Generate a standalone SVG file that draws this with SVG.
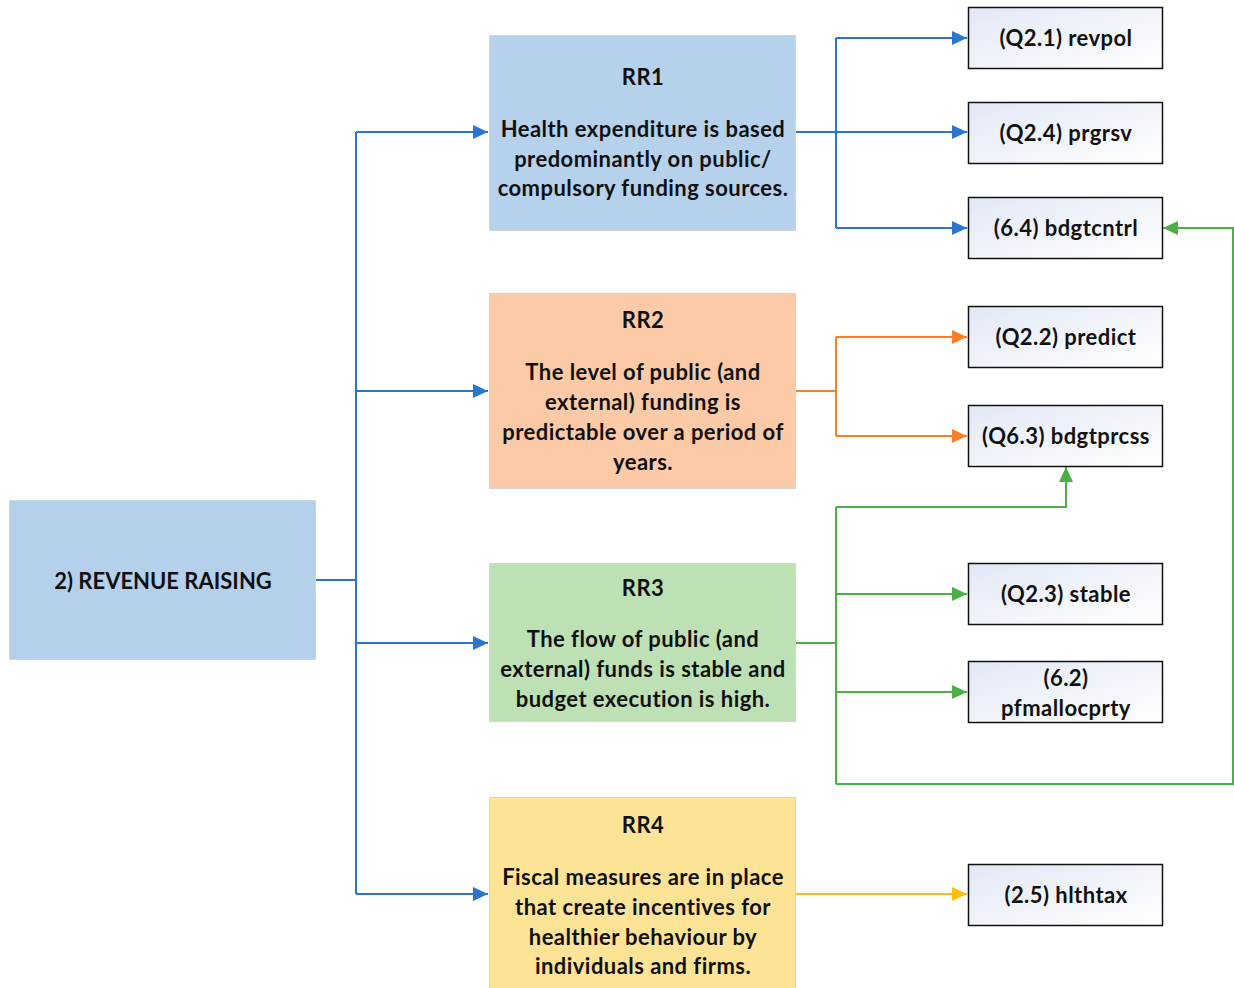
<svg xmlns="http://www.w3.org/2000/svg" width="1234" height="988" viewBox="0 0 1234 988">
<style>
text{font-family:Lato,"Liberation Sans",sans-serif;font-weight:bold;font-size:22px;letter-spacing:0.45px;fill:#111;text-anchor:middle}
.big{stroke:#d0d6dc;stroke-width:1}
.q{fill:url(#qg);stroke:#111;stroke-width:1.5}
.c{fill:none;stroke-width:2}
.b{stroke:#2a76cc}.o{stroke:#fa7f2a}.g{stroke:#4bb044}.y{stroke:#fdbd0c}
</style>
<defs>
<linearGradient id="qg" x1="0" y1="0" x2="1" y2="1"><stop offset="0" stop-color="#e2e8f5"/><stop offset="1" stop-color="#ffffff"/></linearGradient>
<marker id="ab" markerUnits="userSpaceOnUse" markerWidth="16" markerHeight="14" refX="15" refY="7" orient="auto"><path d="M0,0L15,7L0,14z" fill="#2a76cc"/></marker>
<marker id="ao" markerUnits="userSpaceOnUse" markerWidth="16" markerHeight="14" refX="15" refY="7" orient="auto"><path d="M0,0L15,7L0,14z" fill="#fa7f2a"/></marker>
<marker id="ag" markerUnits="userSpaceOnUse" markerWidth="16" markerHeight="14" refX="15" refY="7" orient="auto"><path d="M0,0L15,7L0,14z" fill="#4bb044"/></marker>
<marker id="ay" markerUnits="userSpaceOnUse" markerWidth="16" markerHeight="14" refX="15" refY="7" orient="auto"><path d="M0,0L15,7L0,14z" fill="#fdbd0c"/></marker>
</defs>
<rect width="1234" height="988" fill="#fff"/>
<g id="connectors">
<path class="c b" d="M315,580H356"/>
<path class="c b" d="M356,132V894"/>
<path class="c b" d="M356,132H488" marker-end="url(#ab)"/>
<path class="c b" d="M356,391H488" marker-end="url(#ab)"/>
<path class="c b" d="M356,643H488" marker-end="url(#ab)"/>
<path class="c b" d="M356,894H488" marker-end="url(#ab)"/>
<path class="c b" d="M795,132H967" marker-end="url(#ab)"/>
<path class="c b" d="M836,38V228"/>
<path class="c b" d="M836,38H967" marker-end="url(#ab)"/>
<path class="c b" d="M836,228H967" marker-end="url(#ab)"/>
<path class="c o" d="M795,391H836"/>
<path class="c o" d="M836,337V436"/>
<path class="c o" d="M836,337H967" marker-end="url(#ao)"/>
<path class="c o" d="M836,436H967" marker-end="url(#ao)"/>
<path class="c g" d="M795,643H836"/>
<path class="c g" d="M836,507V784"/>
<path class="c g" d="M836,507H1066V467" marker-end="url(#ag)"/>
<path class="c g" d="M836,594H967" marker-end="url(#ag)"/>
<path class="c g" d="M836,692H967" marker-end="url(#ag)"/>
<path class="c g" d="M836,784H1233V228H1163" marker-end="url(#ag)"/>
<path class="c y" d="M795,894H967" marker-end="url(#ay)"/>
</g>
<g id="rr">
<rect class="big" x="9.5" y="500.5" width="306" height="159" fill="#b5d0eb"/>
<text x="163" y="589" style="letter-spacing:0">2) REVENUE RAISING</text>
</g>
<g id="rr1">
<rect class="big" x="489.5" y="35.5" width="306" height="195" fill="#b6d1eb"/>
<text x="643" y="85">RR1</text>
<text x="643" y="137">Health expenditure is based</text>
<text x="643" y="167">predominantly on public/</text>
<text x="643" y="196">compulsory funding sources.</text>
</g>
<g id="rr2">
<rect class="big" x="489.5" y="293.5" width="306" height="195" fill="#fccaa7"/>
<text x="643" y="328">RR2</text>
<text x="643" y="380">The level of public (and</text>
<text x="643" y="410">external) funding is</text>
<text x="643" y="440">predictable over a period of</text>
<text x="643" y="470">years.</text>
</g>
<g id="rr3">
<rect class="big" x="489.5" y="563.5" width="306" height="158" fill="#bde0b4"/>
<text x="643" y="596">RR3</text>
<text x="643" y="647">The flow of public (and</text>
<text x="643" y="677">external) funds is stable and</text>
<text x="643" y="707">budget execution is high.</text>
</g>
<g id="rr4">
<rect class="big" x="489.5" y="797.5" width="306" height="195" fill="#fde396"/>
<text x="643" y="833">RR4</text>
<text x="643" y="885">Fiscal measures are in place</text>
<text x="643" y="915">that create incentives for</text>
<text x="643" y="945">healthier behaviour by</text>
<text x="643" y="974">individuals and firms.</text>
</g>
<g id="q21"><rect class="q" x="968.5" y="7.5" width="194" height="61"/><text x="1066" y="46">(Q2.1) revpol</text></g>
<g id="q24"><rect class="q" x="968.5" y="102.5" width="194" height="61"/><text x="1066" y="141">(Q2.4) prgrsv</text></g>
<g id="q64"><rect class="q" x="968.5" y="197.5" width="194" height="61"/><text x="1066" y="236">(6.4) bdgtcntrl</text></g>
<g id="q22"><rect class="q" x="968.5" y="306.5" width="194" height="61"/><text x="1066" y="345">(Q2.2) predict</text></g>
<g id="q63"><rect class="q" x="968.5" y="405.5" width="194" height="61"/><text x="1066" y="444">(Q6.3) bdgtprcss</text></g>
<g id="q23"><rect class="q" x="968.5" y="563.5" width="194" height="61"/><text x="1066" y="602">(Q2.3) stable</text></g>
<g id="q62"><rect class="q" x="968.5" y="661.5" width="194" height="61"/><text x="1066" y="686">(6.2)</text><text x="1066" y="716">pfmallocprty</text></g>
<g id="q25"><rect class="q" x="968.5" y="864.5" width="194" height="61"/><text x="1066" y="903">(2.5) hlthtax</text></g>
</svg>
